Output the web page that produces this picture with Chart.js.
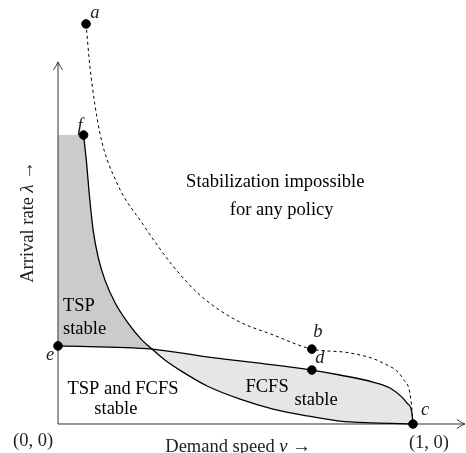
<!DOCTYPE html>
<html>
<head>
<meta charset="utf-8">
<script src="https://cdn.jsdelivr.net/npm/chart.js@4.4.0/dist/chart.umd.min.js"></script>
<style>
  html, body { margin: 0; padding: 0; background: #fff; }
  #chart { display: block; }
</style>
</head>
<body>
<canvas id="chart" width="466" height="453"></canvas>
<script>
// demand speed v (x) and arrival rate lambda (y)
const tspX   = [0.072, 0.081, 0.087, 0.099, 0.113, 0.132, 0.161, 0.197, 0.234, 0.265, 0.301, 0.352, 0.420, 0.513, 0.606, 0.701, 0.794, 0.887, 1.0];
const tspY   = [0.814, 0.730, 0.659, 0.546, 0.470, 0.406, 0.341, 0.285, 0.239, 0.211, 0.180, 0.146, 0.107, 0.070, 0.042, 0.023, 0.008, 0.003, 0.0];
const fcfsX  = [0.0, 0.265, 0.420, 0.561, 0.715, 0.794, 0.887, 0.944, 0.983, 0.997, 1.0];
const fcfsY  = [0.220, 0.211, 0.189, 0.172, 0.152, 0.138, 0.118, 0.096, 0.059, 0.031, 0.0];
const boundX = [0.079, 0.090, 0.118, 0.166, 0.239, 0.324, 0.400, 0.501, 0.606, 0.715, 0.823, 0.915, 0.972, 0.994, 1.0];
const boundY = [1.127, 1.006, 0.820, 0.679, 0.563, 0.445, 0.363, 0.293, 0.251, 0.211, 0.200, 0.172, 0.127, 0.070, 0.0];
const crossIndexTsp = 9;   // tsp and fcfs curves meet here
const crossIndexFcfs = 1;

const pointNames = ["a", "f", "e", "b", "d", "c"];
const pointX = [0.079, 0.072, 0.0, 0.715, 0.715, 1.0];
const pointY = [1.127, 0.814, 0.220, 0.211, 0.152, 0.0];
const pointLabelX = [0.104, 0.062, -0.022, 0.732, 0.738, 1.034];
const pointLabelY = [1.158, 0.840, 0.195, 0.259, 0.186, 0.039];

const axisXEnd = 1.146;
const axisYEnd = 1.020;

function zip(xs, ys) {
  return xs.map(function(x, i) { return { x: x, y: ys[i] }; });
}

let tspPts = zip(tspX, tspY);
let fcfsPts = zip(fcfsX, fcfsY);

// shaded region where only TSP is stable
let tspRegion = [{ x: 0, y: tspY[0] }]
  .concat(tspPts.slice(0, crossIndexTsp + 1))
  .concat(fcfsPts.slice(0, crossIndexFcfs).reverse())
  .concat([{ x: 0, y: tspY[0] }]);

// shaded region where only FCFS is stable
let fcfsRegion = fcfsPts.slice(crossIndexFcfs)
  .concat(tspPts.slice(crossIndexTsp).reverse());

const serif = "'Liberation Serif', 'Times New Roman', serif";

function drawRuns(ctx, runs, cx, cy, size) {
  let total = 0;
  runs.forEach(function(r) {
    ctx.font = (r[1] ? "italic " : "") + size + "px " + serif;
    total += ctx.measureText(r[0]).width;
  });
  let x = cx - total / 2;
  ctx.textAlign = "left";
  runs.forEach(function(r) {
    ctx.font = (r[1] ? "italic " : "") + size + "px " + serif;
    ctx.fillText(r[0], x, cy);
    x += ctx.measureText(r[0]).width;
  });
}

function arrowHead(ctx, x, y, angle) {
  ctx.save();
  ctx.translate(x, y);
  ctx.rotate(angle);
  ctx.beginPath();
  ctx.moveTo(-8, -4.5);
  ctx.quadraticCurveTo(-3, -1, 0, 0);
  ctx.quadraticCurveTo(-3, 1, -8, 4.5);
  ctx.stroke();
  ctx.restore();
}

const labelsPlugin = {
  id: "labels",
  afterDatasetsDraw: function(chart) {
    let ctx = chart.ctx;
    let sx = chart.scales.x, sy = chart.scales.y;
    let px = function(v) { return sx.getPixelForValue(v); };
    let py = function(v) { return sy.getPixelForValue(v); };

    ctx.save();
    ctx.strokeStyle = "#333";
    ctx.lineWidth = 1;
    arrowHead(ctx, px(axisXEnd), py(0), 0);
    arrowHead(ctx, px(0), py(axisYEnd), -Math.PI / 2);

    ctx.fillStyle = "#000";
    ctx.textBaseline = "middle";
    let size = 18.5;
    drawRuns(ctx, [["Stabilization impossible", false]], px(0.612), py(0.682), size);
    drawRuns(ctx, [["for any policy", false]], px(0.630), py(0.603), size);
    drawRuns(ctx, [["TSP and FCFS", false]], px(0.183), py(0.099), size);
    drawRuns(ctx, [["stable", false]], px(0.163), py(0.042), size);
    drawRuns(ctx, [["FCFS", false]], px(0.589), py(0.104), size);
    drawRuns(ctx, [["stable", false]], px(0.727), py(0.068), size);

    ctx.font = size + "px " + serif;
    ctx.textAlign = "left";
    ctx.fillText("TSP", px(0.014), py(0.332));
    ctx.fillText("stable", px(0.014), py(0.268));

    ctx.fillStyle = "#222";
    drawRuns(ctx, [["(0, 0)", false]], px(-0.070), py(-0.048), size);
    drawRuns(ctx, [["(1, 0)", false]], px(1.045), py(-0.054), size);
    drawRuns(ctx, [["Demand speed ", false], ["v", true], [" \u2192", false]], px(0.507), py(-0.065), size);

    ctx.save();
    ctx.translate(px(-0.085), py(0.569));
    ctx.rotate(-Math.PI / 2);
    drawRuns(ctx, [["Arrival rate ", false], ["\u03bb", true], [" \u2192", false]], 0, 0, size);
    ctx.restore();

    pointNames.forEach(function(n, i) {
      drawRuns(ctx, [[n, true]], px(pointLabelX[i]), py(pointLabelY[i]), size);
    });
    ctx.restore();
  }
};

document.addEventListener("DOMContentLoaded", function() {
  let canvas = document.getElementById("chart");

  new Chart(canvas, {
    type: "scatter",
    data: {
      datasets: [
        {
          data: tspRegion, showLine: true, fill: "shape",
          backgroundColor: "#cbcbcb", borderWidth: 0, pointRadius: 0, order: 10
        },
        {
          data: fcfsRegion, showLine: true, fill: "shape",
          backgroundColor: "#e6e6e6", borderWidth: 0, pointRadius: 0, order: 9
        },
        {
          data: [{ x: 0, y: 0 }, { x: axisXEnd, y: 0 }], showLine: true,
          borderColor: "#333", borderWidth: 1, pointRadius: 0, order: 5
        },
        {
          data: [{ x: 0, y: 0 }, { x: 0, y: axisYEnd }], showLine: true,
          borderColor: "#333", borderWidth: 1, pointRadius: 0, order: 5
        },
        {
          data: tspPts, showLine: true, cubicInterpolationMode: "monotone",
          borderColor: "#000", borderWidth: 1.3, pointRadius: 0, order: 4
        },
        {
          data: fcfsPts, showLine: true, cubicInterpolationMode: "monotone",
          borderColor: "#000", borderWidth: 1.3, pointRadius: 0, order: 4
        },
        {
          data: zip(boundX, boundY), showLine: true, cubicInterpolationMode: "monotone",
          borderColor: "#000", borderWidth: 1, borderDash: [3, 3], pointRadius: 0, order: 4
        },
        {
          data: zip(pointX, pointY), showLine: false,
          backgroundColor: "#000", borderColor: "#000", pointRadius: 4.3, order: 0
        }
      ]
    },
    options: {
      responsive: false,
      animation: false,
      devicePixelRatio: 1,
      layout: { padding: 0, autoPadding: false },
      plugins: { legend: { display: false }, tooltip: { enabled: false } },
      scales: {
        x: { type: "linear", display: false, min: -0.1634, max: 1.1493 },
        y: { type: "linear", display: false, min: -0.0817, max: 1.1944 }
      }
    },
    plugins: [labelsPlugin]
  });
});
</script>
</body>
</html>
